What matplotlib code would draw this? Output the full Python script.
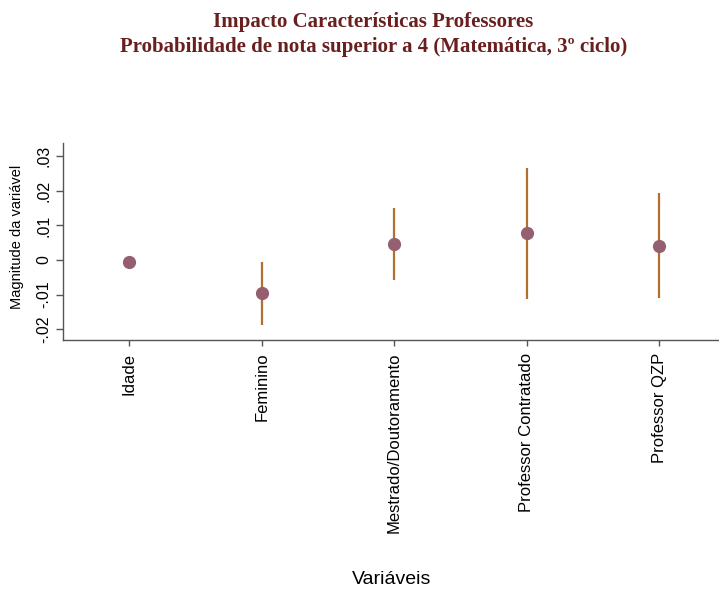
import matplotlib
matplotlib.use('Agg')
import matplotlib.pyplot as plt
import numpy as np

# Dados
categorias = ['Idade', 'Feminino', 'Mestrado/Doutoramento', 'Professor Contratado', 'Professor QZP']
coef = [-0.0006, -0.0096, 0.0045, 0.0077, 0.0040]
ic_inf = [np.nan, -0.0188, -0.0058, -0.0114, -0.0110]
ic_sup = [np.nan, -0.0005, 0.0149, 0.0265, 0.0193]
yticks = [-0.02, -0.01, 0.0, 0.01, 0.02, 0.03]
ytick_labels = ['-.02', '-.01', '0', '.01', '.02', '.03']

COR_PONTO = '#94606f'
COR_IC = '#b36f2e'
COR_TITULO = '#6a1f1f'

fig = plt.figure(figsize=(7.19, 5.91), dpi=100)
ax = fig.add_axes([0.0876, 0.4247, 0.9124, 0.3333])

x = np.arange(len(categorias))

# Intervalos de confiança
for xi, lo, hi in zip(x, ic_inf, ic_sup):
    if not np.isnan(lo):
        ax.vlines(xi, lo, hi, color=COR_IC, linewidth=1.6, zorder=2)

ax.plot(x, coef, 'o', color=COR_PONTO, markersize=8.5, zorder=3)

ax.set_xlim(-0.5, 4.45)
ax.set_ylim(-0.0231, 0.0338)
ax.set_yticks(yticks)
ax.set_yticklabels(ytick_labels, rotation=90, va='center', fontsize=11.5,
                   family='Liberation Sans')
ax.set_xticks(x)
ax.set_xticklabels(categorias, rotation=90, fontsize=12, family='Liberation Sans')

for s in ['top', 'right']:
    ax.spines[s].set_visible(False)
for s in ['left', 'bottom']:
    ax.spines[s].set_color('#555555')
    ax.spines[s].set_linewidth(1.0)
ax.tick_params(axis='both', colors='#555555', labelcolor='black', length=5, width=1)
ax.tick_params(axis='x', length=4, pad=5)

fig.text(0.024, 0.599, 'Magnitude da variável', rotation=90, ha='center', va='center',
         fontsize=10.5, family='Liberation Sans')
fig.text(0.545, 0.019, 'Variáveis', ha='center', va='center', fontsize=14,
         family='Liberation Sans')

fig.text(0.519, 0.962, 'Impacto Características Professores', ha='center', va='center',
         fontsize=15, fontweight='bold', family='Liberation Serif', color=COR_TITULO)
fig.text(0.519, 0.920, 'Probabilidade de nota superior a 4 (Matemática, 3º ciclo)',
         ha='center', va='center', fontsize=15, fontweight='bold',
         family='Liberation Serif', color=COR_TITULO)

fig.savefig('out.png', dpi=100, facecolor='white')
